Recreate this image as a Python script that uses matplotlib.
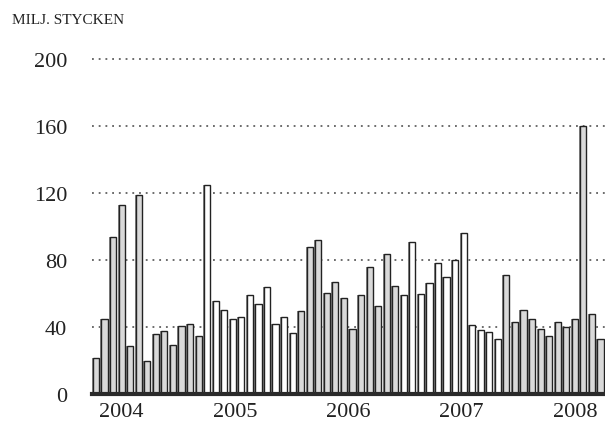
import matplotlib.pyplot as plt
import numpy as np

plt.rcParams['font.family'] = ['Liberation Serif', 'DejaVu Serif']

# monthly values, milj. stycken (60 bars)
values = [21.6, 45, 94, 113, 28.5, 119, 19.6, 36, 37.6, 29, 40.6, 41.8, 34.5,
          125, 55.8, 50.3, 44.8, 46, 59.4, 53.5, 64, 42, 46, 36.6,
          49.7, 88, 91.7, 60.2, 66.7, 57.4, 38.8, 59.2, 75.9, 52.3, 83.6, 64.6,
          59, 91, 60, 66, 78.2, 69.7, 80.2, 96.4, 41.4, 38.4, 37, 33,
          71, 42.8, 50, 44.8, 38.6, 34.8, 43, 40.2, 44.8, 160, 47.5, 32.7]
# g = grey bar, w = white bar
shade = ['g'] * 13 + ['w'] * 11 + ['g'] * 12 + ['w'] * 12 + ['g'] * 12
years = ['2004', '2005', '2006', '2007', '2008']
year_pos = [3, 16.25, 29.5, 42.75, 56]
yticks = [0, 40, 80, 120, 160, 200]

fig = plt.figure(figsize=(6.05, 4.27), dpi=100)
ax = fig.add_axes([92/605, 32/427, 1 - 92/605, 335/427])

x = np.arange(len(values))
fills = ['#d9d9d9' if s == 'g' else 'white' for s in shade]

for yv in yticks[1:]:
    ax.axhline(yv, color='#444444', lw=1.1, ls=(0, (1.2, 3.2)), zorder=0, clip_on=False)

# little shadow on the left side of each bar
ax.bar(x - 0.12, values, width=0.72, color='#8a8a8a', edgecolor='none', zorder=1)
ax.bar(x, values, width=0.72, color=fills, edgecolor='#222222', linewidth=1.0, zorder=2)

ax.axhline(0, color='#2a2a2a', lw=3, zorder=3, clip_on=False)

ax.set_xlim(-0.47, 59.53)
ax.set_ylim(0, 200)
for sp in ax.spines.values():
    sp.set_visible(False)
ax.set_xticks([])
ax.set_yticks(yticks)
ax.set_yticklabels([str(t) for t in yticks], fontsize=16, color='#222222')
ax.tick_params(axis='y', length=0, pad=18)

for yr, p in zip(years, year_pos):
    ax.text(p, -10.5, yr, ha='center', va='center', fontsize=16, color='#222222')

fig.text(12/605, 1 - 21/427, 'MILJ. STYCKEN', fontsize=11, color='#222222', va='center', ha='left')

fig.savefig('out.png', dpi=100)
